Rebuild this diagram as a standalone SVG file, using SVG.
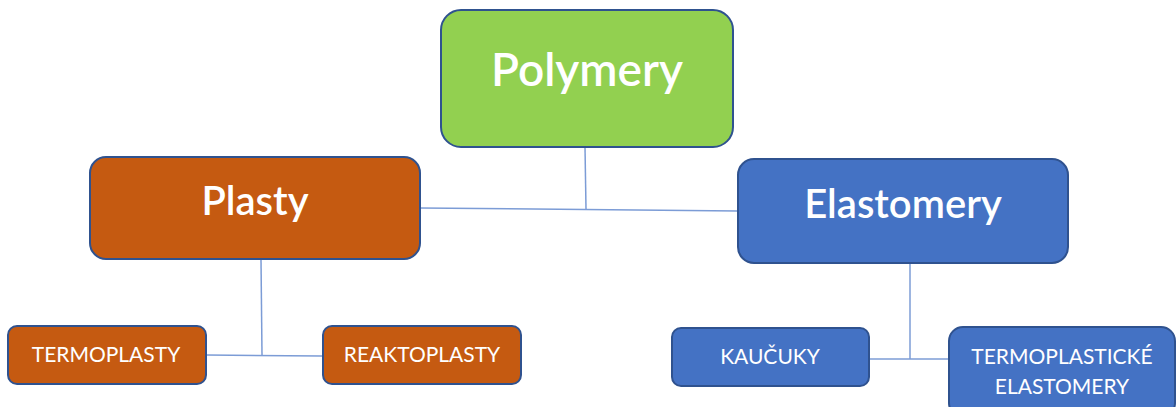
<svg xmlns="http://www.w3.org/2000/svg" width="1176" height="407" viewBox="0 0 1176 407">
<style>
.box{stroke:#2F528F;stroke-width:2}
.g{fill:#92D050}.o{fill:#C55A11}.b{fill:#4472C4}
.t{fill:#fff;font-family:Lato,"Open Sans",sans-serif;text-anchor:middle}
.big{font-size:46px;font-weight:600}
.mid{font-size:40px;font-weight:600}
.sm{font-size:21px}
.c{stroke:#7C9CD6;stroke-width:1.5;fill:none}
</style>
<rect width="1176" height="407" fill="#fff"/>
<g id="connectors">
<line class="c" x1="585" y1="147" x2="586" y2="209"/>
<line class="c" x1="420" y1="208" x2="738" y2="211"/>
<line class="c" x1="261" y1="259" x2="262" y2="355"/>
<line class="c" x1="206" y1="355" x2="322" y2="356"/>
<line class="c" x1="910" y1="263" x2="910" y2="359"/>
<line class="c" x1="869" y1="359" x2="949" y2="359"/>
</g>
<g id="polymery"><rect class="box g" x="441" y="10" width="292" height="137" rx="20"/><text class="t big" x="587" y="86">Polymery</text></g>
<g id="plasty"><rect class="box o" x="90" y="157" width="330" height="102" rx="16"/><text class="t mid" x="255" y="215">Plasty</text></g>
<g id="elastomery"><rect class="box b" x="738" y="159" width="330" height="104" rx="16"/><text class="t mid" x="903" y="218">Elastomery</text></g>
<g id="termoplasty"><rect class="box o" x="8" y="326" width="198" height="58" rx="9"/><text class="t sm" x="106" y="362">TERMOPLASTY</text></g>
<g id="reaktoplasty"><rect class="box o" x="323" y="326" width="198" height="58" rx="9"/><text class="t sm" x="422" y="362">REAKTOPLASTY</text></g>
<g id="kaucuky"><rect class="box b" x="672" y="328" width="197" height="58" rx="9"/><text class="t sm" x="770" y="364">KAUČUKY</text></g>
<g id="tpe"><rect class="box b" x="949" y="327" width="226" height="90" rx="14"/><text class="t sm" x="1062" y="364">TERMOPLASTICKÉ</text><text class="t sm" x="1062" y="394">ELASTOMERY</text></g>
</svg>
